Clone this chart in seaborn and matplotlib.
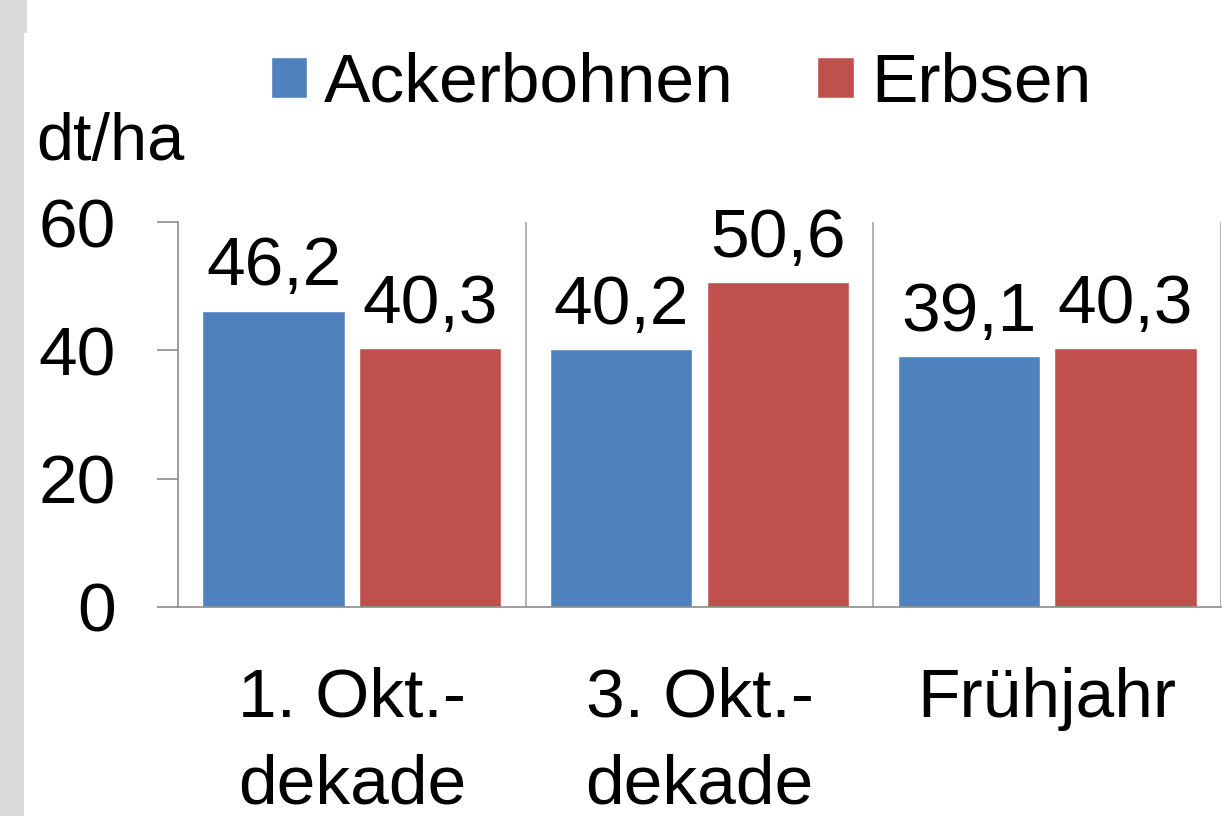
import numpy as np
import pandas as pd
import matplotlib
matplotlib.use('Agg')
import matplotlib.pyplot as plt
from matplotlib.patches import Rectangle
import seaborn as sns

###################################################################################
# Data

termine = ['1. Okt.-\ndekade', '3. Okt.-\ndekade', 'Frühjahr']
sorten = ['Ackerbohnen', 'Erbsen']
ackerbohnen = [46.2, 40.2, 39.1]
erbsen = [40.3, 50.6, 40.3]
y_ticks = [0, 20, 40, 60]
einheit = 'dt/ha'
farben = ['#4F81BD', '#C0504D']

df = pd.DataFrame({
    'termin': termine * 2,
    'sorte': [sorten[0]] * 3 + [sorten[1]] * 3,
    'ertrag': ackerbohnen + erbsen,
})

###################################################################################
# Plot

sns.set_theme(style='white')
plt.rcParams['font.family'] = ['Liberation Sans', 'DejaVu Sans']
plt.rcParams['text.color'] = 'black'
plt.rcParams['xtick.labelcolor'] = 'black'
plt.rcParams['ytick.labelcolor'] = 'black'

fig = plt.figure(figsize=(12.24, 8.16), dpi=100)
fig.patch.set_facecolor('white')
# grey band on the left edge
fig.patches.append(Rectangle((0, 0), 24 / 1224, 1, transform=fig.transFigure,
                             facecolor='#dadada', edgecolor='none', zorder=0))
fig.patches.append(Rectangle((0, 1 - 33 / 816), 27 / 1224, 33 / 816, transform=fig.transFigure,
                             facecolor='#dadada', edgecolor='none', zorder=0))

ax = fig.add_axes([178 / 1224, 1 - 607 / 816, (1221 - 178) / 1224, (607 - 222) / 816])

sns.barplot(data=df, x='termin', y='ertrag', hue='sorte', hue_order=sorten,
            order=termine, palette=farben, width=0.9, gap=0.09,
            saturation=1, ax=ax)

for cont, werte in zip(ax.containers, [ackerbohnen, erbsen]):
    ax.bar_label(cont, labels=[f'{v:.1f}'.replace('.', ',') for v in werte],
                 padding=8, fontsize=50, color='black')

ax.set_ylim(0, 60)
ax.set_xlim(-0.5, 2.5)
ax.set_yticks(y_ticks)
ax.set_xlabel('')
ax.set_ylabel('')

ax.set_xticks(np.arange(len(termine)) + 0.5, minor=True)
ax.grid(False)
ax.grid(which='minor', axis='x', color='#a6a6a6', linewidth=1.2)
ax.set_axisbelow(True)

for s in ['top', 'right']:
    ax.spines[s].set_visible(False)
for s in ['left', 'bottom']:
    ax.spines[s].set_color('#8c8c8c')
    ax.spines[s].set_linewidth(1.2)

ax.tick_params(axis='y', which='major', length=15, width=1.2, color='#8c8c8c',
               pad=30, labelsize=50, left=True, labelcolor='black')
ax.tick_params(axis='x', which='both', length=0, pad=43, labelsize=50, labelcolor='black')
for lab in ax.get_xticklabels():
    lab.set_linespacing(1.45)

handles, labels = ax.get_legend_handles_labels()
ax.legend_.remove()
fig.legend(handles, labels, loc='center', bbox_to_anchor=(681 / 1224, 1 - 84 / 816),
           ncol=2, frameon=False, fontsize=50, handlelength=0.52, handleheight=0.55,
           handletextpad=0.25, columnspacing=1.2, borderpad=0, labelcolor='black')

fig.text(36 / 1224, 1 - 160 / 816, einheit, fontsize=48, ha='left', va='baseline', color='black')

fig.savefig('out.png', dpi=100)
